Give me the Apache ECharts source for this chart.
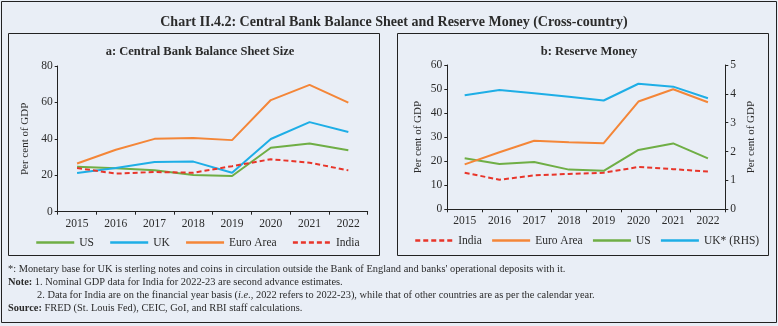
<!DOCTYPE html>
<html>
<head>
<meta charset="utf-8">
<script src="https://cdn.jsdelivr.net/npm/echarts@6/dist/echarts.min.js"></script>
<style>
  html, body { margin: 0; padding: 0; background: #e9eef6; }
  #chart { width: 778px; height: 326px; }
</style>
</head>
<body>
<div id="chart"></div>
<script>
// Years shown on both panels
const years = ['2015', '2016', '2017', '2018', '2019', '2020', '2021', '2022'];

// Panel a: central bank balance sheet size (per cent of GDP)
const bsUS = [24.7, 23.8, 22.7, 20.1, 19.6, 35.1, 37.5, 33.7];
const bsUK = [21.2, 24.0, 27.3, 27.5, 21.4, 39.9, 49.2, 43.8];
const bsEuro = [26.5, 34.0, 40.0, 40.4, 39.3, 61.3, 69.6, 59.9];
const bsIndia = [24.0, 20.9, 21.8, 21.4, 25.0, 28.8, 26.9, 22.7];

// Panel b: reserve money (per cent of GDP); UK on the right-hand scale
const rmIndia = [15.2, 12.3, 14.1, 14.7, 15.2, 17.6, 16.7, 15.7];
const rmEuro = [18.7, 23.7, 28.5, 27.9, 27.5, 44.8, 49.9, 44.5];
const rmUS = [21.2, 18.8, 19.7, 16.5, 16.0, 24.7, 27.4, 21.2];
const rmUK = [3.95, 4.13, 4.02, 3.90, 3.77, 4.35, 4.25, 3.85];

const C_US = '#6fae45';
const C_UK = '#1eaee6';
const C_EURO = '#f48638';
const C_INDIA = '#e8352a';

const SERIF = '"Liberation Serif", "Times New Roman", serif';
const TXT = '#2b2b2b';

const chart = echarts.init(document.getElementById('chart'));

function catAxis(gridIndex, margin) {
  return {
    type: 'category', gridIndex, data: years, boundaryGap: true,
    axisLine: { lineStyle: { color: '#222', width: 1 } },
    axisTick: { show: true, length: 3, alignWithLabel: false, lineStyle: { color: '#222' } },
    axisLabel: { color: TXT, fontFamily: SERIF, fontSize: 11.5, margin }
  };
}

function valAxis(gridIndex, opts) {
  return Object.assign({
    type: 'value', gridIndex,
    name: 'Per cent of GDP', nameLocation: 'middle', nameRotate: 90,
    nameTextStyle: { color: TXT, fontFamily: SERIF, fontSize: 11 },
    axisLine: { show: true, lineStyle: { color: '#222', width: 1 } },
    axisTick: { show: true, length: 3, lineStyle: { color: '#222' } },
    axisLabel: { color: TXT, fontFamily: SERIF, fontSize: 11.5, margin: 5 },
    splitLine: { show: false }
  }, opts);
}

function line(name, data, color, xi, yi, dashed) {
  return {
    name, type: 'line', data, xAxisIndex: xi, yAxisIndex: yi,
    symbol: 'none', smooth: false,
    lineStyle: { color, width: 2, type: dashed ? [5, 3] : 'solid' },
    itemStyle: { color }
  };
}

const legendBase = {
  padding: 0, width: 380,
  itemWidth: 38, itemHeight: 12,
  itemStyle: { opacity: 0 },
  lineStyle: { width: 2.5 },
  formatter: (n) => n.trim(),
  textStyle: { color: TXT, fontFamily: SERIF, fontSize: 11.5 }
};

chart.setOption({
  backgroundColor: '#e9eef6',
  animation: false,
  title: [
    {
      text: 'Chart II.4.2: Central Bank Balance Sheet and Reserve Money (Cross-country)',
      left: 389, top: 10, textAlign: 'center',
      textStyle: { color: TXT, fontFamily: SERIF, fontSize: 14, fontWeight: 'bold' }
    },
    {
      text: 'a: Central Bank Balance Sheet Size',
      left: 195, top: 40, textAlign: 'center',
      textStyle: { color: TXT, fontFamily: SERIF, fontSize: 12.5, fontWeight: 'bold' }
    },
    {
      text: 'b: Reserve Money',
      left: 584, top: 40, textAlign: 'center',
      textStyle: { color: TXT, fontFamily: SERIF, fontSize: 12.5, fontWeight: 'bold' }
    }
  ],
  grid: [
    { left: 57.7, top: 66, width: 310, height: 145.7 },
    { left: 447.3, top: 65, width: 278, height: 144.3 }
  ],
  xAxis: [catAxis(0, 6), catAxis(1, 6)],
  yAxis: [
    valAxis(0, { min: 0, max: 80, interval: 20, nameGap: 27 }),
    valAxis(1, { min: 0, max: 60, interval: 10, nameGap: 24 }),
    valAxis(1, { min: 0, max: 5, interval: 1, position: 'right', nameGap: 20 })
  ],
  legend: [
    Object.assign({ data: ['US', 'UK', 'Euro Area', 'India'], left: 35, top: 236.5, itemGap: 15 }, legendBase),
    Object.assign({ data: ['India ', 'Euro Area ', 'US ', 'UK* (RHS)'], left: 414, top: 234.5, itemGap: 9 }, legendBase)
  ],
  series: [
    line('US', bsUS, C_US, 0, 0),
    line('UK', bsUK, C_UK, 0, 0),
    line('Euro Area', bsEuro, C_EURO, 0, 0),
    line('India', bsIndia, C_INDIA, 0, 0, true),
    line('UK* (RHS)', rmUK, C_UK, 1, 2),
    line('US ', rmUS, C_US, 1, 1),
    line('Euro Area ', rmEuro, C_EURO, 1, 1),
    line('India ', rmIndia, C_INDIA, 1, 1, true)
  ],
  graphic: [
    // outer frame and the two panel boxes
    { type: 'rect', silent: true, shape: { x: 1.5, y: 1.5, width: 775, height: 321 },
      style: { fill: null, stroke: '#222', lineWidth: 1 } },
    { type: 'rect', silent: true, shape: { x: 8.5, y: 33.5, width: 371, height: 222 },
      style: { fill: null, stroke: '#222', lineWidth: 1 } },
    { type: 'rect', silent: true, shape: { x: 397.5, y: 33.5, width: 371, height: 222 },
      style: { fill: null, stroke: '#222', lineWidth: 1 } },
    // footnotes
    { type: 'text', left: 8, top: 264, silent: true,
      style: { text: "*: Monetary base for UK is sterling notes and coins in circulation outside the Bank of England and banks' operational deposits with it.",
               fill: TXT, font: '10.4px ' + SERIF } },
    { type: 'text', left: 8, top: 277, silent: true,
      style: { text: '{b|Note:} 1. Nominal GDP data for India for 2022-23 are second advance estimates.',
               fill: TXT, font: '10.4px ' + SERIF,
               rich: { b: { fontWeight: 'bold', fontFamily: SERIF, fontSize: 10.4, fill: TXT } } } },
    { type: 'text', left: 37, top: 290, silent: true,
      style: { text: '2. Data for India are on the financial year basis ({i|i.e.}, 2022 refers to 2022-23), while that of other countries are as per the calendar year.',
               fill: TXT, font: '10.4px ' + SERIF,
               rich: { i: { fontStyle: 'italic', fontFamily: SERIF, fontSize: 10.4, fill: TXT } } } },
    { type: 'text', left: 8, top: 303, silent: true,
      style: { text: '{b|Source:} FRED (St. Louis Fed), CEIC, GoI, and RBI staff calculations.',
               fill: TXT, font: '10.4px ' + SERIF,
               rich: { b: { fontWeight: 'bold', fontFamily: SERIF, fontSize: 10.4, fill: TXT } } } }
  ]
});
</script>
</body>
</html>
